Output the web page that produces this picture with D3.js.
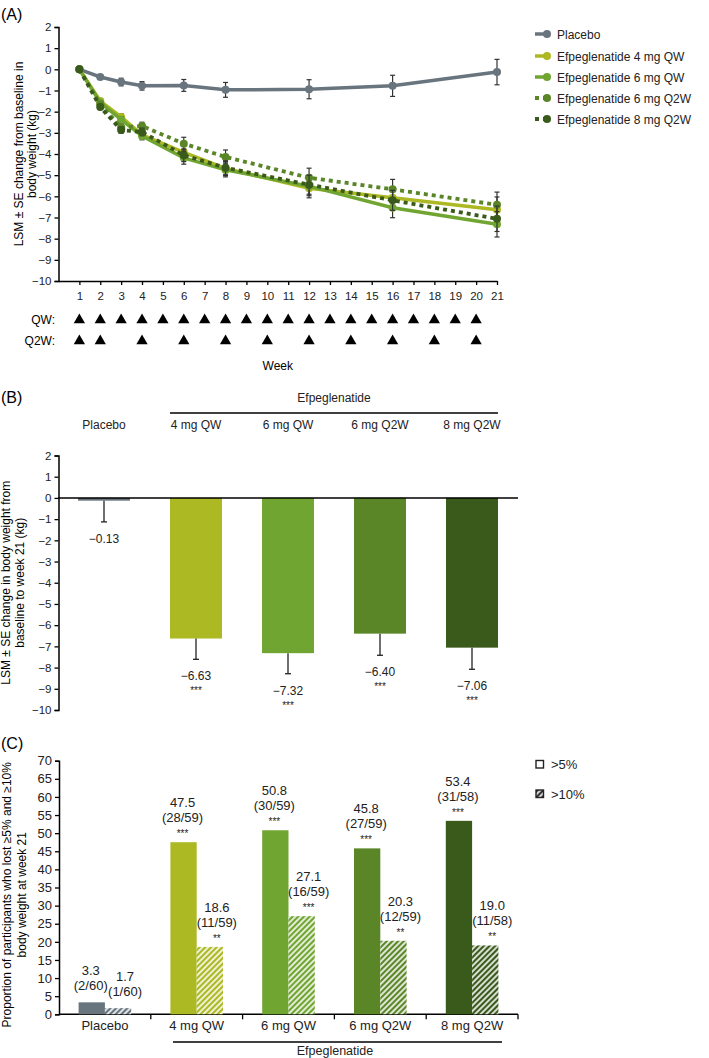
<!DOCTYPE html>
<html><head><meta charset="utf-8">
<script src="https://cdn.jsdelivr.net/npm/d3@7"></script>
<style>
body{margin:0;background:#fff;}
svg{display:block;font-family:"Liberation Sans",Arial,sans-serif;}
.narrow{font-family:"Liberation Sans Narrow","Liberation Sans",Arial,sans-serif;}
</style></head>
<body><svg id="c" width="709" height="1058"></svg>
<script>
// ---------- Panel A data ----------
const weeks = [1,2,3,4,6,8,12,16,21];
const seriesNames = ["Placebo","Efpeglenatide 4 mg QW","Efpeglenatide 6 mg QW","Efpeglenatide 6 mg Q2W","Efpeglenatide 8 mg Q2W"];
const placebo = [0,-0.36,-0.6,-0.78,-0.76,-0.97,-0.94,-0.78,-0.13];
const qw4  = [0,-1.5,-2.25,-3.1,-3.92,-4.68,-5.62,-6.07,-6.63];
const qw6  = [0,-1.57,-2.38,-3.15,-4.18,-4.75,-5.52,-6.54,-7.32];
const q2w6 = [0,-1.65,-2.75,-2.68,-3.51,-4.14,-5.12,-5.67,-6.40];
const q2w8 = [0,-1.78,-2.87,-2.96,-4.06,-4.65,-5.45,-6.19,-7.06];
const sePlacebo = [0,0.1,0.18,0.2,0.28,0.35,0.45,0.5,0.6];
const seTreat   = [0,0.12,0.15,0.18,0.3,0.33,0.45,0.47,0.6];
const weekTicks = d3.range(1,22);
const qwDoses  = d3.range(1,21);
const q2wDoses = [1,2,4,6,8,10,12,14,16,18,20];
const yTicksA = d3.range(-10,3);

// ---------- Panel B data ----------
const groups = ["Placebo","4 mg QW","6 mg QW","6 mg Q2W","8 mg Q2W"];
const lsm = [-0.13,-6.63,-7.32,-6.40,-7.06];
const seB = [1.0,0.98,0.97,1.02,1.02];
const starsB = ["","***","***","***","***"];

// ---------- Panel C data ----------
const pct5  = [3.3,47.5,50.8,45.8,53.4];
const n5    = ["2/60","28/59","30/59","27/59","31/58"];
const stars5 = ["","***","***","***","***"];
const pct10 = [1.7,18.6,27.1,20.3,19.0];
const n10   = ["1/60","11/59","16/59","12/59","11/58"];
const stars10 = ["","**","***","**","**"];
const yTicksC = d3.range(0,71,5);

const colors = ["#68747e","#acb923","#71a531","#5a8628","#3a5a1b"];
const dashed = [false,false,false,true,true];

const svg = d3.select("#c");
const minus = s => String(s).replace("-","\u2212");
const fmtA = d => minus(d);

// ================= PANEL A =================
svg.append("text").attr("x",1).attr("y",20).attr("font-size",16).text("(A)");
const xA = d3.scaleLinear().domain([0,21]).range([58.5,497]);
const yA = d3.scaleLinear().domain([-10,2]).range([281,27]);
const gA = svg.append("g");
gA.append("g").attr("transform","translate(58.5,0)")
  .call(d3.axisLeft(yA).tickValues(yTicksA).tickSize(4).tickFormat(fmtA))
  .call(g=>{g.selectAll("text").attr("font-size",11.5).attr("fill","#222");g.select(".domain").attr("stroke-width",1.5);g.selectAll("line").attr("stroke-width",1.3);});
gA.append("g").attr("transform","translate(0,281)")
  .call(d3.axisBottom(xA).tickValues(weekTicks).tickSize(4).tickSizeOuter(0).tickPadding(7))
  .call(g=>{g.selectAll("text").attr("font-size",11.5).attr("fill","#222");g.select(".domain").attr("stroke-width",1.5);g.selectAll("line").attr("stroke-width",1.3);});
svg.append("text").attr("x",55).attr("y",324).attr("text-anchor","end").attr("font-size",12).text("QW:");
svg.append("text").attr("x",55).attr("y",345).attr("text-anchor","end").attr("font-size",12).text("Q2W:");
const tri = d3.symbol().type(d3.symbolTriangle).size(55);
svg.selectAll(".tqw").data(qwDoses).join("path").attr("d",tri).attr("fill","#000")
  .attr("transform",d=>`translate(${xA(d)},320)`);
svg.selectAll(".tq2w").data(q2wDoses).join("path").attr("d",tri).attr("fill","#000")
  .attr("transform",d=>`translate(${xA(d)},341)`);
svg.append("text").attr("x",xA(10.5)).attr("y",370).attr("text-anchor","middle").attr("font-size",12).text("Week");
svg.append("text").attr("transform",`translate(23,${yA(-4)}) rotate(-90)`).attr("text-anchor","middle").attr("font-size",12)
  .text("LSM \u00b1 SE change from baseline in");
svg.append("text").attr("transform",`translate(36,${yA(-4)}) rotate(-90)`).attr("text-anchor","middle").attr("font-size",12)
  .text("body weight (kg)");

const seriesA = [placebo,qw4,qw6,q2w6,q2w8];
const seA = [sePlacebo,seTreat,seTreat,seTreat,seTreat];
const line = d3.line().x((d,i)=>xA(weeks[i])).y(d=>yA(d));
seriesA.forEach((vals,s)=>{
  const g = gA.append("g");
  vals.forEach((v,i)=>{
    const e = seA[s][i]; if(!e) return;
    const x = xA(weeks[i]);
    g.append("line").attr("x1",x).attr("x2",x).attr("y1",yA(v+e)).attr("y2",yA(v-e)).attr("stroke","#333").attr("stroke-width",1.2);
    [v+e,v-e].forEach(t=>g.append("line").attr("x1",x-2.5).attr("x2",x+2.5).attr("y1",yA(t)).attr("y2",yA(t)).attr("stroke","#333").attr("stroke-width",1.2));
  });
  g.append("path").datum(vals).attr("d",line).attr("fill","none").attr("stroke",colors[s])
    .attr("stroke-width",dashed[s]?3.8:3.5).attr("stroke-dasharray",dashed[s]?"4,4":null);
  g.selectAll("circle").data(vals).join("circle").attr("cx",(d,i)=>xA(weeks[i])).attr("cy",d=>yA(d)).attr("r",4).attr("fill",colors[s]);
});
const legY = [34,56,77,98,119];
seriesNames.forEach((n,s)=>{
  const y = legY[s];
  svg.append("line").attr("x1",535).attr("x2",547).attr("y1",y).attr("y2",y).attr("stroke",colors[s])
    .attr("stroke-width",dashed[s]?3.8:3.5).attr("stroke-dasharray",dashed[s]?"4,4":null);
  svg.append("circle").attr("cx",547).attr("cy",y).attr("r",4).attr("fill",colors[s]);
  svg.append("text").attr("x",557).attr("y",y+4.5).attr("font-size",12).attr("fill","#222").text(n);
});

// ================= PANEL B =================
svg.append("text").attr("x",1).attr("y",403).attr("font-size",16).text("(B)");
const xB = d3.scaleBand().domain(groups).range([58,518]).paddingInner(0.435).paddingOuter(0.2175);
const yB = d3.scaleLinear().domain([-10,2]).range([710,455.5]);
svg.append("g").attr("transform","translate(58.5,0)")
  .call(d3.axisLeft(yB).tickValues(yTicksA).tickSize(4).tickFormat(fmtA))
  .call(g=>{g.selectAll("text").attr("font-size",11.5).attr("fill","#222");g.select(".domain").attr("stroke-width",1.5);g.selectAll("line").attr("stroke-width",1.3);});
groups.forEach((gname,i)=>{
  const x0 = xB(gname), w = xB.bandwidth(), cx = x0+w/2;
  svg.append("rect").attr("x",x0).attr("width",w).attr("y",yB(0)).attr("height",yB(lsm[i])-yB(0)).attr("fill",colors[i]);
  const ye = yB(lsm[i]-seB[i]);
  svg.append("line").attr("x1",cx).attr("x2",cx).attr("y1",yB(lsm[i])).attr("y2",ye).attr("stroke","#222").attr("stroke-width",1.3);
  svg.append("line").attr("x1",cx-3).attr("x2",cx+3).attr("y1",ye).attr("y2",ye).attr("stroke","#222").attr("stroke-width",1.3);
  svg.append("text").attr("x",cx).attr("y",ye+21).attr("text-anchor","middle").attr("font-size",12).attr("fill","#222").text(minus(lsm[i].toFixed(2)));
  if(starsB[i]) svg.append("text").attr("x",cx).attr("y",ye+35).attr("text-anchor","middle").attr("font-size",10).attr("fill","#222").text(starsB[i]);
  svg.append("text").attr("x",cx).attr("y",429).attr("text-anchor","middle").attr("font-size",12).attr("fill","#222").text(gname);
});
svg.append("line").attr("x1",58).attr("x2",518).attr("y1",yB(0)).attr("y2",yB(0)).attr("stroke","#000").attr("stroke-width",1.5);
svg.append("line").attr("x1",170).attr("x2",498).attr("y1",413).attr("y2",413).attr("stroke","#000").attr("stroke-width",1.3);
svg.append("text").attr("x",334).attr("y",402).attr("text-anchor","middle").attr("font-size",12).attr("fill","#222").text("Efpeglenatide");
svg.append("text").attr("transform",`translate(10,${yB(-4)}) rotate(-90)`).attr("text-anchor","middle").attr("font-size",12)
  .text("LSM \u00b1 SE change in body weight from");
svg.append("text").attr("transform",`translate(24,${yB(-4)}) rotate(-90)`).attr("text-anchor","middle").attr("font-size",12)
  .text("baseline to week 21 (kg)");

// ================= PANEL C =================
const defs = svg.append("defs");
function hatch(id,col){
  const p = defs.append("pattern").attr("id",id).attr("patternUnits","userSpaceOnUse").attr("width",4).attr("height",4)
    .attr("patternTransform","rotate(45)");
  p.append("rect").attr("width",4).attr("height",4).attr("fill",col);
  p.append("line").attr("x1",1).attr("x2",1).attr("y1",0).attr("y2",4).attr("stroke","#fff").attr("stroke-width",1.6);
}
colors.forEach((c,i)=>hatch("h"+i,c));
hatch("hleg","#333");

const gC = svg.append("g").attr("class","narrow");
svg.append("text").attr("x",1).attr("y",749).attr("font-size",16).text("(C)");
const xC = d3.scaleBand().domain(groups).range([59,518]);
const yC = d3.scaleLinear().domain([0,70]).range([1014.3,760.7]);
gC.append("g").attr("transform","translate(59,0)")
  .call(d3.axisLeft(yC).tickValues(yTicksC).tickSize(4))
  .call(g=>{g.selectAll("text").attr("font-size",13).attr("fill","#222");g.select(".domain").attr("stroke-width",1.5);g.selectAll("line").attr("stroke-width",1.3);});
gC.append("line").attr("x1",59).attr("x2",518).attr("y1",yC(0)).attr("y2",yC(0)).attr("stroke","#000").attr("stroke-width",1.5);
groups.forEach((gname,i)=>{
  const xb = xC(gname)+xC.bandwidth();
  gC.append("line").attr("x1",xb).attr("x2",xb).attr("y1",yC(0)).attr("y2",yC(0)+5).attr("stroke","#000").attr("stroke-width",1.3);
});
const bw = 26.3;
groups.forEach((gname,i)=>{
  const cx = xC(gname)+xC.bandwidth()/2;
  const x5 = cx-bw, x10 = cx;
  gC.append("rect").attr("x",x5).attr("width",bw).attr("y",yC(pct5[i])).attr("height",yC(0)-yC(pct5[i])).attr("fill",colors[i]);
  gC.append("rect").attr("x",x10).attr("width",bw).attr("y",yC(pct10[i])).attr("height",yC(0)-yC(pct10[i])).attr("fill",`url(#h${i})`);
  const lab = (x,v,n,st)=>{
    const top = yC(v);
    const off = st ? 0 : 8;
    gC.append("text").attr("x",x).attr("y",top-35+off).attr("text-anchor","middle").attr("font-size",13).attr("fill","#222").text(v.toFixed(1));
    gC.append("text").attr("x",x).attr("y",top-20+off).attr("text-anchor","middle").attr("font-size",13).attr("fill","#222").text(`(${n})`);
    if(st) gC.append("text").attr("x",x).attr("y",top-5).attr("text-anchor","middle").attr("font-size",10).attr("fill","#222").text(st);
  };
  lab(x5+bw/2-1,pct5[i],n5[i],stars5[i]);
  lab(x10+bw/2+7,pct10[i],n10[i],stars10[i]);
  gC.append("text").attr("x",cx).attr("y",1030).attr("text-anchor","middle").attr("font-size",13).attr("fill","#222").text(gname);
});
gC.append("line").attr("x1",173).attr("x2",502).attr("y1",1042).attr("y2",1042).attr("stroke","#000").attr("stroke-width",1.3);
gC.append("text").attr("x",335).attr("y",1055).attr("text-anchor","middle").attr("font-size",12.5).attr("fill","#222").text("Efpeglenatide");
gC.append("text").attr("transform",`translate(11,${yC(33)}) rotate(-90)`).attr("text-anchor","middle").attr("font-size",12)
  .text("Proportion of participants who lost \u22655% and \u226510%");
gC.append("text").attr("transform",`translate(26,${yC(33)}) rotate(-90)`).attr("text-anchor","middle").attr("font-size",12)
  .text("body weight at week 21");
gC.append("rect").attr("x",536).attr("y",760.5).attr("width",7.5).attr("height",7.5).attr("fill","#fff").attr("stroke","#222").attr("stroke-width",1.4);
gC.append("text").attr("x",551).attr("y",769).attr("font-size",13).attr("fill","#222").text(">5%");
gC.append("rect").attr("x",536).attr("y",790).attr("width",7.5).attr("height",7.5).attr("fill","url(#hleg)").attr("stroke","#222").attr("stroke-width",1.4);
gC.append("text").attr("x",551).attr("y",798.5).attr("font-size",13).attr("fill","#222").text(">10%");
</script></body></html>
